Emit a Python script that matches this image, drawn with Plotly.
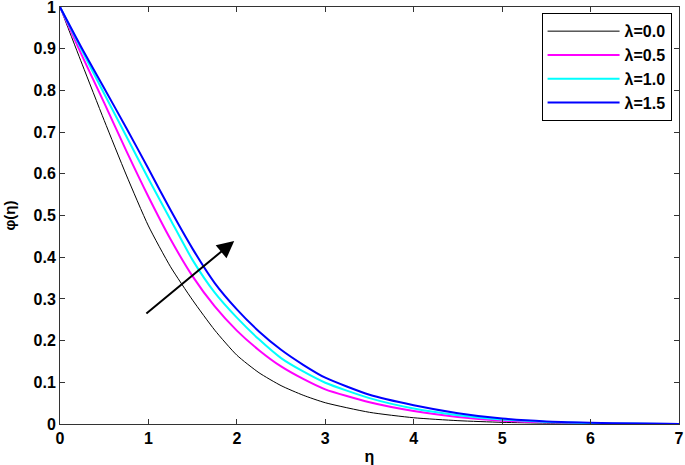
import plotly.graph_objects as go

# similarity variable eta and concentration profiles phi(eta) for each lambda
eta = [0, 0.25, 0.5, 0.75, 1.0, 1.25, 1.5, 1.75, 2.0, 2.25, 2.5, 2.75, 3.0, 3.5, 4.0, 4.5,
       5.0, 5.5, 6.0, 6.5, 7.0]

phi_l00 = [1.0, 0.863, 0.728, 0.597, 0.475, 0.377, 0.297, 0.225, 0.165, 0.123, 0.092, 0.069,
           0.051, 0.028, 0.015, 0.008, 0.004, 0.002, 0.001, 0.0005, 0.0]
phi_l05 = [1.0, 0.883, 0.77, 0.655, 0.545, 0.443, 0.354, 0.282, 0.224, 0.177, 0.138, 0.108,
           0.083, 0.052, 0.031, 0.017, 0.008, 0.004, 0.002, 0.001, 0.0]
phi_l10 = [1.0, 0.895, 0.792, 0.69, 0.588, 0.49, 0.393, 0.315, 0.255, 0.203, 0.158, 0.126,
           0.099, 0.062, 0.037, 0.021, 0.011, 0.005, 0.002, 0.001, 0.0]
phi_l15 = [1.0, 0.90, 0.805, 0.71, 0.612, 0.513, 0.42, 0.338, 0.275, 0.222, 0.178, 0.142,
           0.111, 0.07, 0.045, 0.026, 0.013, 0.006, 0.003, 0.001, 0.0]

labels = ["λ=0.0", "λ=0.5", "λ=1.0", "λ=1.5"]
colors = ["#000000", "#ff00ff", "#00ffff", "#0000ff"]
widths = [1, 2, 2, 2]

x_ticks = [0, 1, 2, 3, 4, 5, 6, 7]
x_ticktext = ["0", "1", "2", "3", "4", "5", "6", "7"]
y_ticks = [0, 0.1, 0.2, 0.3, 0.4, 0.5, 0.6, 0.7, 0.8, 0.9, 1.0]
y_ticktext = ["0", "0.1", "0.2", "0.3", "0.4", "0.5", "0.6", "0.7", "0.8", "0.9", "1"]

FONT = dict(family="Liberation Sans, Arial, sans-serif", size=16, color="black")

fig = go.Figure()
for phi, name, col, w in zip([phi_l00, phi_l05, phi_l10, phi_l15], labels, colors, widths):
    fig.add_trace(go.Scatter(
        x=eta, y=phi, mode="lines", name=f"<b>{name}</b>",
        line=dict(color=col, width=w, shape="spline", smoothing=0.6),
    ))

# arrow showing increasing lambda
fig.add_annotation(
    x=1.97, y=0.439, ax=0.96, ay=0.262,
    xref="x", yref="y", axref="x", ayref="y",
    text="", showarrow=True, arrowhead=2, arrowsize=1.7, arrowwidth=2, arrowcolor="black",
)

axis_common = dict(
    showline=True, linecolor="#333333", linewidth=1, mirror="ticks",
    ticks="inside", ticklen=5, tickcolor="#333333",
    showgrid=False, zeroline=False, tickfont=FONT, automargin=False,
    ticklabeloverflow="allow",
)

fig.update_xaxes(range=[0, 7], tickvals=x_ticks, ticktext=[f"<b>{t}</b>" for t in x_ticktext],
                 title=dict(text="<b>η</b>", font=FONT, standoff=4), **axis_common)
fig.update_yaxes(range=[0, 1], tickvals=y_ticks, ticktext=[f"<b>{t}</b>" for t in y_ticktext],
                 title=dict(text="<b>φ(η)</b>", font=dict(FONT, size=15), standoff=14), **axis_common)

fig.update_layout(
    width=685, height=465,
    margin=dict(l=60, r=6, t=7, b=41),
    plot_bgcolor="white", paper_bgcolor="white",
    font=FONT,
    legend=dict(
        x=0.988, y=0.985, xanchor="right", yanchor="top",
        bgcolor="white", bordercolor="black", borderwidth=1,
        font=FONT, tracegroupgap=0, itemwidth=72,
    ),
)

fig.write_html("out.html", config={"displayModeBar": False},
               post_script="document.body.style.margin='0';")
